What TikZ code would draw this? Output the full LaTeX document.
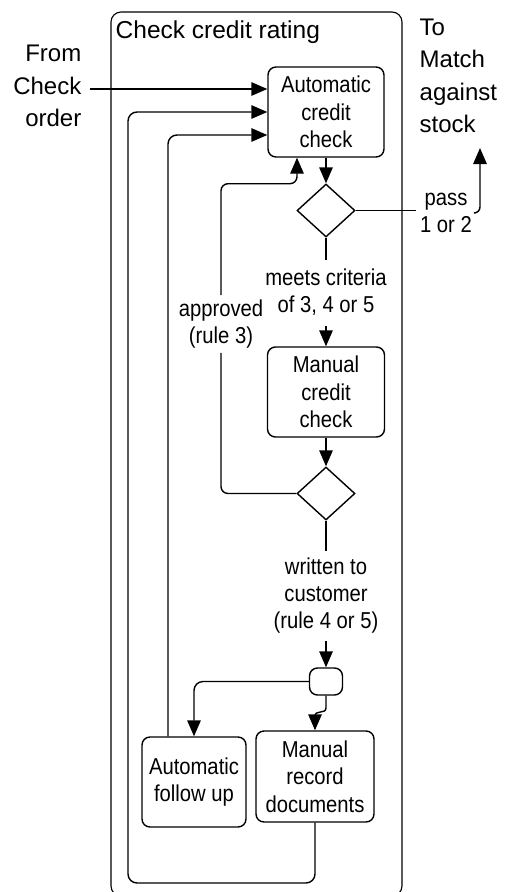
\documentclass[tikz,border=0pt]{standalone}
\usepackage{fontspec}
\setmainfont{Liberation Sans}
\newfontfamily\narrowfont[FakeStretch=0.88]{Liberation Sans}
\usetikzlibrary{shapes.geometric,arrows.meta,calc}

\begin{document}
\begin{tikzpicture}[x=1pt,y=-1pt,
  line width=1.4pt,
  arr/.style={-{Triangle[length=16pt,width=13.5pt]}},
  activity/.style={draw, rounded corners=8pt, align=center, inner sep=0pt,
    font=\narrowfont\fontsize{23}{27.5}\selectfont},
  decision/.style={draw, diamond, inner sep=0pt, minimum width=58pt, minimum height=53pt},
  guard/.style={align=center, inner xsep=2pt, inner ysep=9pt,
    font=\narrowfont\fontsize{23}{27}\selectfont},
  outer/.style={inner sep=0pt, font=\fontsize{24}{32.5}\selectfont},
  rc/.style={rounded corners=9pt}
]
\useasboundingbox (0,0) rectangle (509,892);

% swimlane
\draw[line width=1.1pt, rounded corners=10pt] (111,12) rectangle (402,896);
\node[outer, font=\fontsize{24.5}{30}\selectfont, anchor=base west] (lane) at (115,38.5) {Check credit rating};

% activities and decisions
\node[activity, minimum width=116pt, minimum height=90pt] (acc) at (326,112) {Automatic\\credit\\check};
\node[decision] (d1) at (326,210.5) {};
\node[guard, inner ysep=9pt] (g1) at (326,292.5) {meets criteria\\of 3, 4 or 5};
\node[activity, minimum width=117pt, minimum height=90pt] (mcc) at (326,392) {Manual\\credit\\check};
\node[decision] (d2) at (326,493.5) {};
\node[guard, inner ysep=7pt] (g2) at (326,596) {written to\\customer\\(rule 4 or 5)};
\node[draw, rounded corners=8pt, minimum width=33pt, minimum height=27pt, inner sep=0pt] (fork) at (326,681.5) {};
\node[activity, minimum width=104pt, minimum height=90pt] (afu) at (194,782) {Automatic\\follow up};
\node[activity, minimum width=118pt, minimum height=91pt] (mrd) at (315,776.5) {Manual\\record\\documents};

\node[guard, inner ysep=4pt] (g3) at (221,324) {approved\\(rule 3)};
\node[guard, inner ysep=0pt, inner xsep=3pt] (g4) at (446,213) {pass\\1 or 2};

% external flows
\node[outer, align=right, anchor=east] (from) at (82,86) {From\\Check\\order};
\node[outer, align=left, anchor=west] (to) at (419,76) {To\\Match\\against\\stock};
\coordinate (up) at (480,148);

% main flow
\draw[arr] ([xshift=8pt,yshift=-3pt]from.east) -- ([yshift=23pt]acc.west);
\draw[arr] (acc.south) -- (d1.north);
\draw (d1.south) -- (g1.north);
\draw[arr] (g1.south) -- (mcc.north);
\draw[arr] (mcc.south) -- (d2.north);
\draw (d2.south) -- (g2.north);
\draw[arr] (g2.south) -- (fork.north);

% pass 1 or 2 leaves the lane
\draw (d1.east) -- (d1.east -| g4.west);
\draw[arr, rounded corners=6pt] (g4.east) -| (up);

% approved (rule 3) back to the automatic check
\coordinate (acc3) at ([xshift=-29pt]acc.south);
\draw[rounded corners=7pt] (d2.west) -| (g3.south);
\draw[arr, rounded corners=7pt] (g3.north) |- ($(acc3)+(0,26)$) -- (acc3);

% fork
\draw[arr, rc] (fork.west) -| (afu.north);
\draw[arr] (fork.south) -- ++(0,12) .. controls +(0,7) and +(0,-7) .. ($(mrd.north)+(0,-14)$) -- (mrd.north);

% loops back
\draw[arr, rc] ([xshift=-26pt]afu.north) |- ([yshift=-23pt]acc.west);
\draw[arr, rc] (mrd.south) |- (128,883) |- (acc.west);
\end{tikzpicture}
\end{document}
